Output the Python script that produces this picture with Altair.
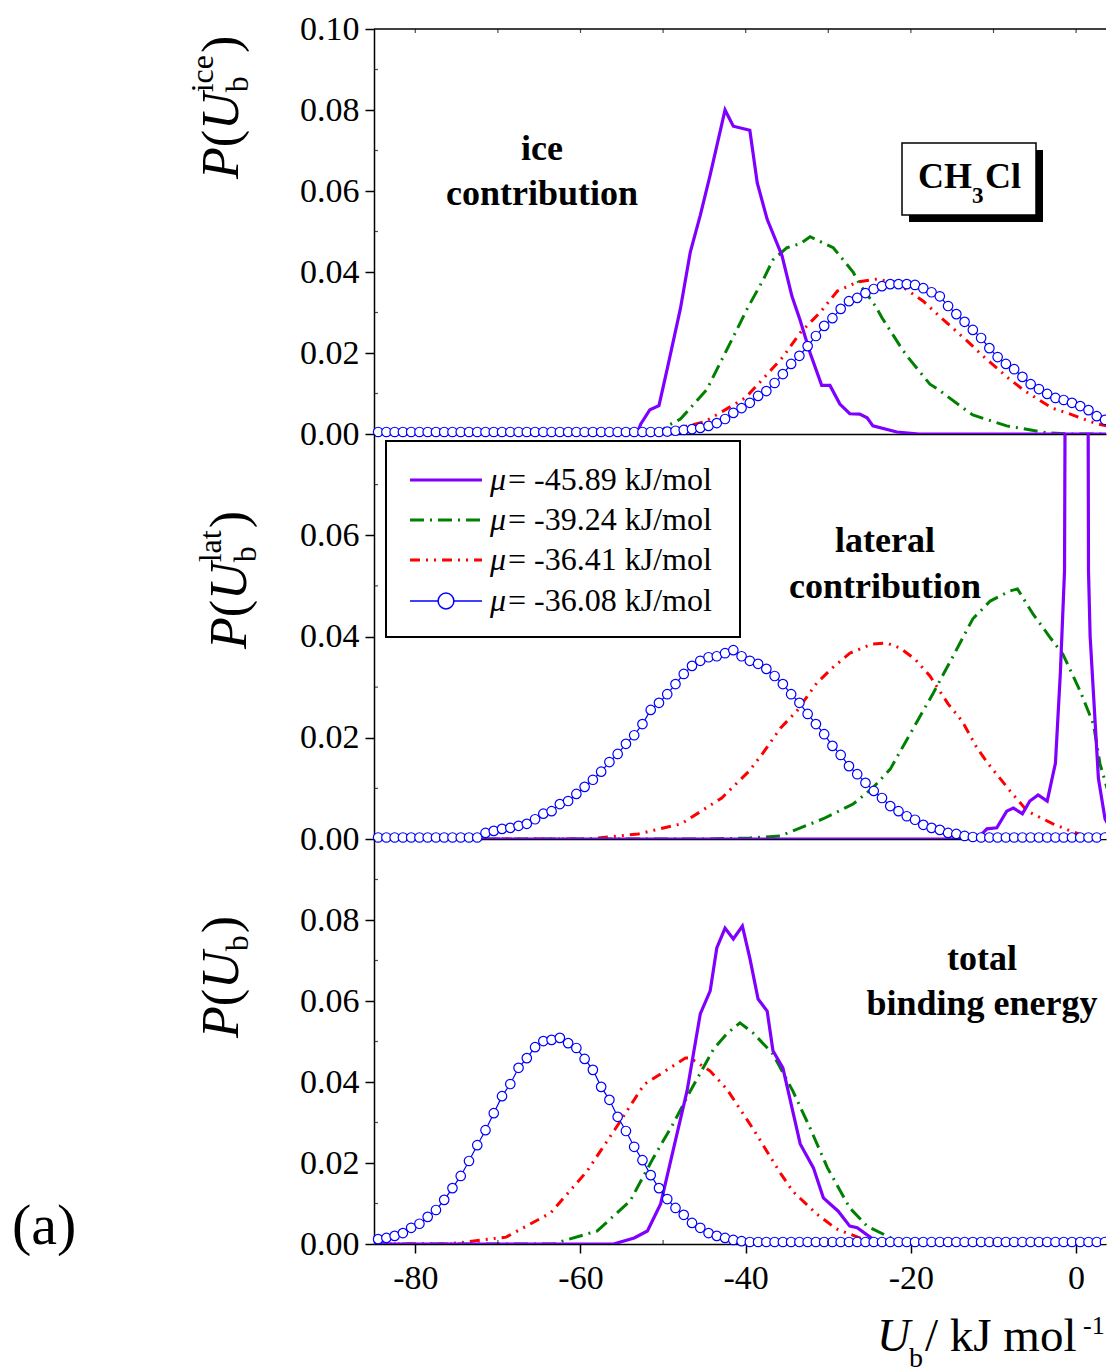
import altair as alt
import pandas as pd

SERIF = "Liberation Serif"
W, H = 732, 405
X_DOMAIN = [-85, 3.62]

# ---------------- data ----------------
# common grid of the blue open-circle series (mu = -36.08 kJ/mol)
BLUE_X = [-84.5, -83.5, -82.5, -81.5, -80.5, -79.5, -78.5, -77.5, -76.5, -75.5,
          -74.5, -73.5, -72.5, -71.5, -70.5, -69.5, -68.5, -67.5, -66.5, -65.5,
          -64.5, -63.5, -62.5, -61.5, -60.5, -59.5, -58.5, -57.5, -56.5, -55.5,
          -54.5, -53.5, -52.5, -51.5, -50.5, -49.5, -48.5, -47.5, -46.5, -45.5,
          -44.5, -43.5, -42.5, -41.5, -40.5, -39.5, -38.5, -37.5, -36.5, -35.5,
          -34.5, -33.5, -32.5, -31.5, -30.5, -29.5, -28.5, -27.5, -26.5, -25.5,
          -24.5, -23.5, -22.5, -21.5, -20.5, -19.5, -18.5, -17.5, -16.5, -15.5,
          -14.5, -13.5, -12.5, -11.5, -10.5, -9.5, -8.5, -7.5, -6.5, -5.5,
          -4.5, -3.5, -2.5, -1.5, -0.5, 0.5, 1.5, 2.5, 3.5, 4.5]

# --- ice contribution ---
ICE_BLUE_Y = [0.0005, 0.0005, 0.0005, 0.0005, 0.0005, 0.0005, 0.0005, 0.0005, 0.0005, 0.0005,
              0.0005, 0.0005, 0.0005, 0.0005, 0.0005, 0.0005, 0.0005, 0.0005, 0.0005, 0.0005,
              0.0005, 0.0005, 0.0005, 0.0005, 0.0005, 0.0005, 0.0005, 0.0005, 0.0005, 0.0005,
              0.0005, 0.0005, 0.0005, 0.0005, 0.0005, 0.0006, 0.0008, 0.0010, 0.0012, 0.0015,
              0.0020, 0.0027, 0.0037, 0.0052, 0.0064, 0.0077, 0.0094, 0.0106, 0.0126, 0.0148,
              0.0173, 0.0193, 0.0217, 0.0242, 0.0267, 0.0286, 0.0309, 0.0328, 0.0336, 0.0348,
              0.0358, 0.0365, 0.0370, 0.0370, 0.0370, 0.0368, 0.0360, 0.0350, 0.0340, 0.0316,
              0.0296, 0.0277, 0.0257, 0.0237, 0.0212, 0.0190, 0.0173, 0.0160, 0.0141, 0.0123,
              0.0111, 0.0099, 0.0089, 0.0084, 0.0077, 0.0069, 0.0059, 0.0044, 0.0035, 0.0025]
ICE_PURPLE_X = [-85, -53.2, -52.7, -51.6, -50.5, -49.4, -47.9, -46.7, -45.5, -44.3, -42.5,
                -41.5, -39.5, -38.6, -37.4, -35.6, -34.4, -33.4, -32.2, -30.8, -29.8,
                -28.6, -27.4, -26.2, -25.3, -24.6, -21.7, -19.0, 5]
ICE_PURPLE_Y = [0, 0, 0.0025, 0.006, 0.007, 0.017, 0.031, 0.045, 0.054, 0.064, 0.080,
                0.076, 0.075, 0.062, 0.053, 0.044, 0.034, 0.028, 0.020, 0.012, 0.012,
                0.0074, 0.005, 0.0049, 0.004, 0.002, 0.0005, 0, 0]
ICE_GREEN_X = [-85, -50.5, -49.5, -47.9, -44.7, -41.5, -39.8, -37.9, -36.7, -35.0, -33.4,
               -32.2, -29.4, -27.0, -26.2, -24.3, -23.5, -21.3, -20.5, -17.7, -16.7,
               -13.2, -12.5, -8.4, -3.5, -1.0, 5]
ICE_GREEN_Y = [0, 0, 0.002, 0.0037, 0.011, 0.024, 0.031, 0.038, 0.043, 0.046, 0.047,
               0.0487, 0.046, 0.040, 0.037, 0.0316, 0.0287, 0.0217, 0.0193, 0.0123, 0.011,
               0.0057, 0.0047, 0.002, 0.0003, 0, 0]
ICE_RED_X = [-85, -52, -50, -45, -42.7, -40, -37.6, -35.5, -33.4, -31, -28.9, -26.5, -24,
             -21.5, -18.5, -16.5, -13.2, -11.3, -8.2, -6.2, -2.9, -1.1, 2.5, 5]
ICE_RED_Y = [0, 0, 0.0005, 0.003, 0.0057, 0.009, 0.0143, 0.019, 0.025, 0.030, 0.0353,
             0.0375, 0.0383, 0.037, 0.0328, 0.029, 0.023, 0.0193, 0.0138, 0.0106, 0.0064,
             0.0052, 0.0025, 0.0015]

# --- lateral contribution ---
LAT_BLUE_Y = [0.0003, 0.0003, 0.0003, 0.0003, 0.0003, 0.0003, 0.0003, 0.0003, 0.0003, 0.0003,
              0.0003, 0.0003, 0.0003, 0.0012, 0.0016, 0.0020, 0.0022, 0.0026, 0.0030, 0.0039,
              0.0050, 0.0055, 0.0069, 0.0075, 0.0089, 0.0103, 0.0117, 0.0133, 0.0152, 0.0168,
              0.0188, 0.0205, 0.0227, 0.0255, 0.0269, 0.0286, 0.0306, 0.0326, 0.0342, 0.0352,
              0.0359, 0.0361, 0.0367, 0.0373, 0.0361, 0.0352, 0.0346, 0.0336, 0.0322, 0.0306,
              0.0286, 0.0269, 0.0247, 0.0227, 0.0207, 0.0184, 0.0166, 0.0144, 0.0128, 0.0111,
              0.0095, 0.0081, 0.0065, 0.0055, 0.0045, 0.0038, 0.0028, 0.0022, 0.0018, 0.0012,
              0.0010, 0.0006, 0.0004, 0.0003, 0.0003, 0.0003, 0.0003, 0.0003, 0.0003, 0.0003,
              0.0003, 0.0003, 0.0003, 0.0003, 0.0003, 0.0003, 0.0003, 0.0003, 0.0003, 0.0003]
LAT_PURPLE_X = [-85, -12, -10.8, -9.6, -8.4, -7.6, -6.5, -5.6, -4.6, -3.5, -2.5, -1.9, -1.4,
                -1.1, 1.3, 1.5, 1.7, 2.7, 3.5, 4.5, 5]
LAT_PURPLE_Y = [0, 0, 0.002, 0.0022, 0.0055, 0.0061, 0.005, 0.0075, 0.0087, 0.0075, 0.015,
                0.033, 0.053, 0.2, 0.2, 0.053, 0.040, 0.012, 0.004, 0.001, 0.0005]
LAT_GREEN_X = [-85, -45, -39.5, -35.8, -30.6, -27, -24.6, -22.5, -19.7, -17.3, -14.9, -12.5,
               -10.4, -8, -7.1, -5.2, -3.1, -1.6, 0.5, 2.1, 2.9, 4.1, 5]
LAT_GREEN_Y = [0, 0, 0.0002, 0.0006, 0.004, 0.0069, 0.0101, 0.0138, 0.0219, 0.0288, 0.0361,
               0.0435, 0.047, 0.049, 0.0494, 0.0444, 0.0397, 0.0365, 0.0292, 0.0227, 0.0148,
               0.0081, 0.006]
LAT_RED_X = [-85, -59, -53, -47.8, -42.9, -39.6, -37.9, -35.8, -33.8, -31.4, -29.5, -27.4,
             -24.7, -22.9, -21.3, -19.5, -17.7, -15.5, -13.8, -12, -10.7, -8, -5.9, -2.8,
             -0.7, 1.5, 5]
LAT_RED_Y = [0, 0, 0.001, 0.003, 0.0081, 0.0134, 0.017, 0.0219, 0.0253, 0.0308, 0.0338,
             0.0367, 0.0385, 0.0387, 0.0377, 0.0355, 0.0322, 0.0267, 0.0233, 0.018, 0.015,
             0.0095, 0.0055, 0.003, 0.0016, 0.0003, 0]

# --- total binding energy ---
TOT_BLUE_Y = [0.0012, 0.0015, 0.0020, 0.0027, 0.0040, 0.0050, 0.0067, 0.0084, 0.0109, 0.0138,
              0.0168, 0.0205, 0.0244, 0.0281, 0.0323, 0.0365, 0.0395, 0.0435, 0.0459, 0.0486,
              0.0501, 0.0504, 0.0509, 0.0496, 0.0484, 0.0457, 0.0430, 0.0388, 0.0356, 0.0314,
              0.0279, 0.0240, 0.0207, 0.0170, 0.0138, 0.0111, 0.0089, 0.0072, 0.0052, 0.0040,
              0.0027, 0.0020, 0.0015, 0.0010, 0.0007, 0.0005, 0.0005, 0.0005, 0.0005, 0.0005,
              0.0005, 0.0005, 0.0005, 0.0005, 0.0005, 0.0005, 0.0005, 0.0005, 0.0005, 0.0005,
              0.0005, 0.0005, 0.0005, 0.0005, 0.0005, 0.0005, 0.0005, 0.0005, 0.0005, 0.0005,
              0.0005, 0.0005, 0.0005, 0.0005, 0.0005, 0.0005, 0.0005, 0.0005, 0.0005, 0.0005,
              0.0005, 0.0005, 0.0005, 0.0005, 0.0005, 0.0005, 0.0005, 0.0005, 0.0005, 0.0005]
TOT_PURPLE_X = [-85, -56, -53.5, -51.9, -50.3, -48.8, -47.1, -45.5, -44.3, -43.5, -42.5,
                -41.5, -40.4, -39.5, -38.5, -37.4, -36.7, -35.5, -33.4, -31.8, -30.6, -28.8,
                -27.4, -26.5, -24.6, -23, 5]
TOT_PURPLE_Y = [0, 0, 0.0015, 0.0032, 0.0099, 0.023, 0.0378, 0.0568, 0.0625, 0.0731, 0.078,
                0.0753, 0.0785, 0.0706, 0.0605, 0.0575, 0.0477, 0.0435, 0.0247, 0.0188,
                0.0114, 0.0081, 0.0044, 0.004, 0.0012, 0, 0]
TOT_GREEN_X = [-85, -63.2, -62.2, -58, -54, -51.2, -48.8, -46.7, -43.9, -42.3, -40.7, -39.1,
               -36.7, -34.3, -32.2, -30.1, -27.4, -25.3, -22.9, -21.7, -20, 5]
TOT_GREEN_Y = [0, 0, 0.0007, 0.0032, 0.0106, 0.0212, 0.0296, 0.0378, 0.0481, 0.0519,
               0.0546, 0.0521, 0.0469, 0.0378, 0.0286, 0.0188, 0.0089, 0.0044, 0.002,
               0.0007, 0, 0]
TOT_RED_X = [-85, -76, -69, -63.6, -59.2, -55.7, -52.3, -47.3, -46.7, -44.3, -42.3, -39.1,
             -35.8, -34.3, -31.4, -29, -26.2, -24, 5]
TOT_RED_Y = [0, 0, 0.0017, 0.0077, 0.018, 0.0287, 0.0394, 0.0459, 0.0459, 0.0427, 0.0383,
             0.0284, 0.0175, 0.013, 0.0074, 0.0037, 0.0015, 0, 0]

LEGEND_LABELS = ["= -45.89 kJ/mol", "= -39.24 kJ/mol", "= -36.41 kJ/mol", "= -36.08 kJ/mol"]
X_TICKS = [-80, -60, -40, -20, 0]
X_MINOR = [-70, -50, -30, -10]
TOP_TICKS = [-80, -70, -60, -50, -40, -30, -20, -10, 0]

# ---------------- styles ----------------
PURPLE, GREEN, RED, BLUE = "#7F00FF", "#008000", "#FF0000", "#0000FF"
GREEN_DASH = [14, 6, 2, 6]
RED_DASH = [10, 6, 2, 6, 2, 6]
EDGE_X = 2.8  # circles right of this are clipped at the plot edge

XS = alt.Scale(domain=X_DOMAIN, nice=False, zero=False)


def df_xy(xs, ys):
    return pd.DataFrame({"x": xs, "y": ys})


def one(s=""):
    return pd.DataFrame({"t": [s]})


def y_axis(values):
    return alt.Axis(values=values, title=None, labelExpr="format(datum.value, '.2f')",
                    labelFont=SERIF, labelFontSize=34, labelColor="black", labelPadding=6,
                    tickSize=9, tickColor="black", tickWidth=1.5, domainColor="black",
                    domainWidth=1.5, grid=False, labelOverlap=False)


def x_axis(with_labels):
    if with_labels:
        return alt.Axis(values=X_TICKS, title=None, labelExpr="'' + datum.value",
                        labelFont=SERIF, labelFontSize=34, labelColor="black", labelPadding=8,
                        tickSize=9, tickColor="black", tickWidth=1.5, domainColor="black",
                        domainWidth=1.5, grid=False, labelFlush=False, labelOverlap=False)
    return alt.Axis(labels=False, ticks=False, title=None, domainColor="black",
                    domainWidth=1.5, grid=False)


class Panel:
    def __init__(self, ydomain, yticks, xlabels):
        self.ys = alt.Scale(domain=ydomain, nice=False, zero=True)
        self.yax = y_axis(yticks)
        self.xax = x_axis(xlabels)

    def X(self, f):
        return alt.X(f, scale=XS, axis=self.xax)

    def Y(self, f):
        return alt.Y(f, scale=self.ys, axis=self.yax)

    def line(self, xs, ys, color, width, dash=None):
        kw = dict(clip=True, color=color, strokeWidth=width)
        if dash:
            kw["strokeDash"] = dash
        return alt.Chart(df_xy(xs, ys)).mark_line(**kw).encode(
            x=self.X("x:Q"), y=self.Y("y:Q"))

    def points(self, ys, clip, keep):
        return alt.Chart(df_xy(BLUE_X, ys)).transform_filter(keep).mark_point(
            shape="circle", filled=True, fill="white", stroke=BLUE, strokeWidth=1.2,
            size=90, opacity=1, clip=clip).encode(x=self.X("x:Q"), y=self.Y("y:Q"))

    def circles(self, ys):
        return [self.points(ys, False, alt.datum.x < EDGE_X),
                self.points(ys, True, alt.datum.x >= EDGE_X)]

    def yminor(self, values):
        return alt.Chart(pd.DataFrame({"v": values})).mark_tick(
            orient="horizontal", size=4, thickness=1.2, color="black").encode(
            y=self.Y("v:Q"), x=alt.value(2))

    def xticks(self, values, ypos):
        return alt.Chart(pd.DataFrame({"v": values})).mark_tick(
            orient="vertical", size=4, thickness=1.2, color="black").encode(
            x=self.X("v:Q"), y=alt.value(ypos))


def txt(s, x, y, size, bold=False, italic=False, align="center", baseline="middle",
        angle=None):
    kw = dict(font=SERIF, fontSize=size, align=align, baseline=baseline, color="black")
    if bold:
        kw["fontWeight"] = "bold"
    if italic:
        kw["fontStyle"] = "italic"
    if angle is not None:
        kw["angle"] = angle
    return alt.Chart(one(s)).mark_text(**kw).encode(
        x=alt.value(x), y=alt.value(y), text="t:N")


def rect(x1, y1, x2, y2, fill, stroke=None, sw=1.5):
    kw = dict(fill=fill)
    if stroke:
        kw.update(stroke=stroke, strokeWidth=sw)
    return alt.Chart(one()).mark_rect(**kw).encode(
        x=alt.value(x1), x2=alt.value(x2), y=alt.value(y1), y2=alt.value(y2))


def hrule(x1, x2, y, color, width, dash=None):
    kw = dict(color=color, strokeWidth=width)
    if dash:
        kw["strokeDash"] = dash
    return alt.Chart(one()).mark_rule(**kw).encode(
        x=alt.value(x1), x2=alt.value(x2), y=alt.value(y))


def y_title(base_x, start_y, sup):
    """P(U_b^sup) written bottom-to-top."""
    big, small = 52, 32
    layers = []
    y = start_y
    layers.append(txt("P", base_x, y, big, italic=True, align="left", baseline="alphabetic", angle=270))
    y -= 0.611 * big
    layers.append(txt("(", base_x, y, big, align="left", baseline="alphabetic", angle=270))
    y -= 0.333 * big
    layers.append(txt("U", base_x, y, big, italic=True, align="left", baseline="alphabetic", angle=270))
    y -= 0.722 * big
    layers.append(txt("b", base_x + 10, y, small, align="left", baseline="alphabetic", angle=270))
    adv = 0.5 * small
    if sup:
        layers.append(txt(sup, base_x - 25, y, small, align="left", baseline="alphabetic", angle=270))
        adv = max(adv, {"ice": 1.166, "lat": 1.0}[sup] * small)
    y -= adv + 2
    layers.append(txt(")", base_x, y, big, align="left", baseline="alphabetic", angle=270))
    return layers


# ---------------- top panel: ice contribution ----------------
P1 = Panel([0, 0.10], [0, 0.02, 0.04, 0.06, 0.08, 0.10], False)
top_layers = [
    P1.line(ICE_RED_X, ICE_RED_Y, RED, 3, RED_DASH),
    P1.line(ICE_GREEN_X, ICE_GREEN_Y, GREEN, 3, GREEN_DASH),
    P1.line(ICE_PURPLE_X, ICE_PURPLE_Y, PURPLE, 3.2),
    P1.line(BLUE_X, ICE_BLUE_Y, BLUE, 1.2),
    *P1.circles(ICE_BLUE_Y),
    P1.yminor([0.01, 0.03, 0.05, 0.07, 0.09]),
    P1.xticks(TOP_TICKS, 2),
    hrule(0, W, 0, "black", 1.5),
    txt("ice", 168, 120, 36, bold=True),
    txt("contribution", 168, 165, 36, bold=True),
    rect(535, 121, 669, 193, "black"),
    rect(528, 114, 662, 186, "white", "black", 1.5),
    txt("CH", 544, 148, 36, bold=True, align="left"),
    txt("3", 598, 167, 23, bold=True, align="left"),
    txt("Cl", 611, 148, 36, bold=True, align="left"),
] + y_title(-136, 150, "ice")
top = alt.layer(*top_layers).properties(width=W, height=H)

# ---------------- middle panel: lateral contribution ----------------
P2 = Panel([0, 0.08], [0, 0.02, 0.04, 0.06], False)
rows = [46, 86, 126, 167]
mid_layers = [
    P2.line(LAT_RED_X, LAT_RED_Y, RED, 3, RED_DASH),
    P2.line(LAT_GREEN_X, LAT_GREEN_Y, GREEN, 3, GREEN_DASH),
    P2.line(LAT_PURPLE_X, LAT_PURPLE_Y, PURPLE, 3.2),
    P2.line(BLUE_X, LAT_BLUE_Y, BLUE, 1.2),
    *P2.circles(LAT_BLUE_Y),
    P2.yminor([0.01, 0.03, 0.05, 0.07]),
    txt("lateral", 511, 107, 36, bold=True),
    txt("contribution", 511, 153, 36, bold=True),
    # legend
    rect(12, 7, 366, 203, "white", "black", 2),
    hrule(36, 108, rows[0], PURPLE, 3),
    hrule(36, 108, rows[1], GREEN, 3, GREEN_DASH),
    hrule(36, 108, rows[2], RED, 3, RED_DASH),
    hrule(36, 108, rows[3], BLUE, 1.5),
    alt.Chart(one()).mark_point(shape="circle", filled=True, fill="white", stroke=BLUE,
                                strokeWidth=1.5, size=250, opacity=1).encode(
        x=alt.value(72), y=alt.value(rows[3])),
]
for r, lab in zip(rows, LEGEND_LABELS):
    mid_layers.append(txt("\u03bc", 116, r, 32, italic=True, align="left"))
    mid_layers.append(txt(lab, 134, r, 32, align="left"))
mid_layers += y_title(-128, 215, "lat")
mid = alt.layer(*mid_layers).properties(width=W, height=H)

# ---------------- bottom panel: total binding energy ----------------
P3 = Panel([0, 0.10], [0, 0.02, 0.04, 0.06, 0.08], True)
bot_layers = [
    P3.line(TOT_RED_X, TOT_RED_Y, RED, 3, RED_DASH),
    P3.line(TOT_GREEN_X, TOT_GREEN_Y, GREEN, 3, GREEN_DASH),
    P3.line(TOT_PURPLE_X, TOT_PURPLE_Y, PURPLE, 3.2),
    P3.line(BLUE_X, TOT_BLUE_Y, BLUE, 1.2),
    *P3.circles(TOT_BLUE_Y),
    P3.yminor([0.01, 0.03, 0.05, 0.07, 0.09]),
    P3.xticks(X_MINOR, H - 2),
    txt("total", 608, 120, 36, bold=True),
    txt("binding energy", 608, 165, 36, bold=True),
    txt("(a)", -362, 405, 58, align="left", baseline="alphabetic"),
    # x-axis title: U_b / kJ mol^-1
    txt("U", 503, 512, 46, italic=True, align="left", baseline="alphabetic"),
    txt("b", 535, 528, 28, align="left", baseline="alphabetic"),
    txt("/ kJ mol", 551, 512, 47, align="left", baseline="alphabetic"),
    txt("-1", 709, 495, 26, align="left", baseline="alphabetic"),
] + y_title(-136, 199, None)
bot = alt.layer(*bot_layers).properties(width=W, height=H)

chart = alt.vconcat(top, mid, bot, spacing=0, bounds="flush").properties(
    padding={"left": 4, "top": 4, "right": 0, "bottom": 0}
).configure_view(stroke=None)

chart.save("out.html", embed_options={"renderer": "svg", "actions": False})
